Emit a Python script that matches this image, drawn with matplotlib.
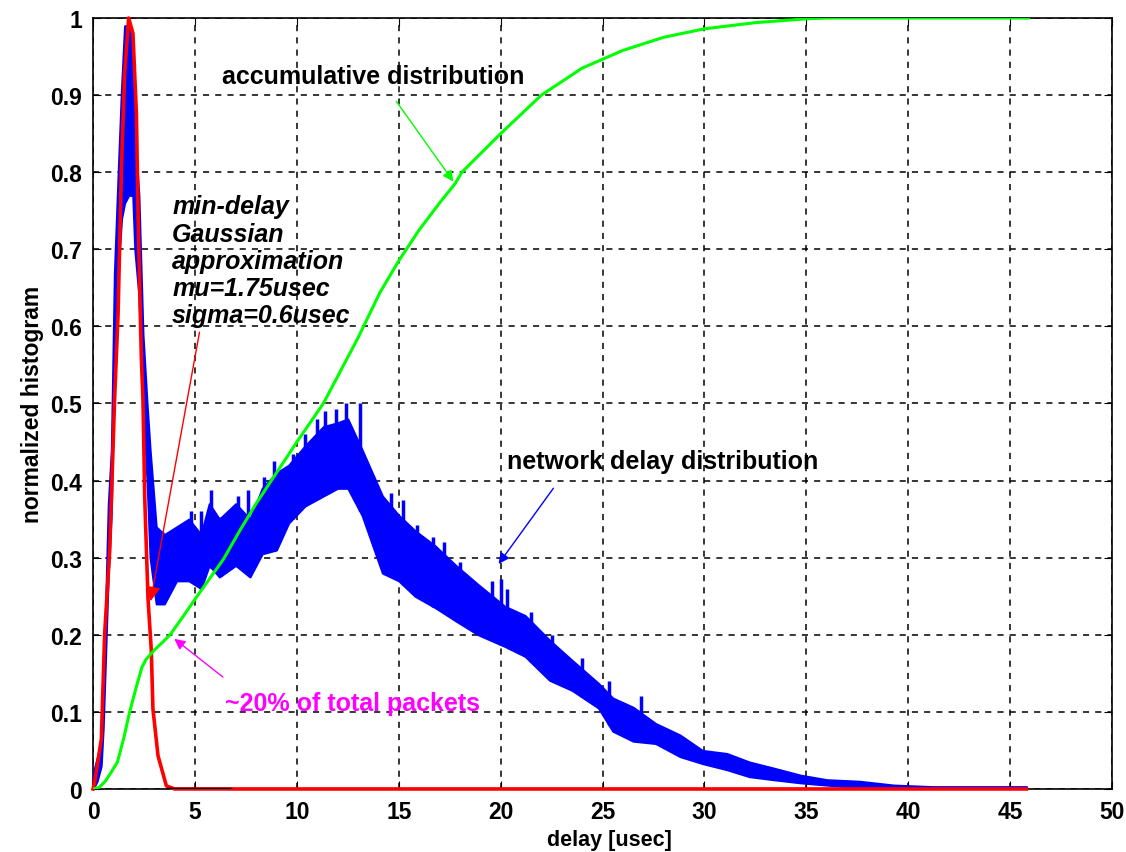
import numpy as np
import matplotlib.pyplot as plt

plt.rcParams['font.family'] = ['Liberation Sans', 'DejaVu Sans']

# network delay histogram: lower and upper edge of the noisy trace
net_x = [0.0, 0.2, 0.4, 0.5, 0.6, 0.75, 0.9, 1.05, 1.25, 1.4, 1.55, 1.75, 1.95, 2.05,
         2.25, 2.45, 2.65, 2.8, 2.95, 3.1, 3.5, 4.1, 4.7, 5.3, 5.7, 6.2, 7.0, 7.7, 8.3,
         9.0, 9.6, 10.4, 11.3, 12.0, 12.5, 13.2, 14.2, 15.0, 15.8, 16.8, 17.8, 18.9,
         20.2, 21.2, 22.4, 23.5, 24.8, 25.5, 26.5, 27.6, 28.8, 29.9, 31.1, 32.2, 33.4,
         34.7, 36.0, 37.6, 39.3, 41.2, 45.8]
net_hi = [0.02, 0.04, 0.06, 0.12, 0.22, 0.37, 0.44, 0.67, 0.81, 0.91, 0.99, 0.99, 0.97, 0.85,
          0.77, 0.59, 0.50, 0.44, 0.39, 0.34, 0.33, 0.34, 0.35, 0.33, 0.37, 0.35, 0.37, 0.35, 0.39,
          0.41, 0.42, 0.445, 0.47, 0.475, 0.48, 0.44, 0.38, 0.355, 0.335, 0.315, 0.29, 0.265,
          0.237, 0.225, 0.193, 0.167, 0.137, 0.118, 0.106, 0.085, 0.07, 0.05, 0.046, 0.035, 0.027,
          0.018, 0.012, 0.010, 0.005, 0.003, 0.003]
net_lo = [0.0, 0.01, 0.03, 0.08, 0.16, 0.28, 0.36, 0.56, 0.68, 0.74, 0.76, 0.77, 0.77, 0.70,
          0.64, 0.50, 0.40, 0.30, 0.27, 0.24, 0.24, 0.27, 0.27, 0.26, 0.29, 0.275, 0.29, 0.275, 0.305,
          0.31, 0.345, 0.367, 0.38, 0.39, 0.39, 0.355, 0.28, 0.27, 0.25, 0.235, 0.218, 0.20,
          0.185, 0.172, 0.141, 0.128, 0.105, 0.075, 0.062, 0.059, 0.042, 0.033, 0.025, 0.016, 0.012,
          0.008, 0.005, 0.002, 0.0, 0.0, 0.0]

# single-bin spikes sticking out above the trace
spike_x = [3.4, 4.3, 4.8, 5.3, 5.8, 6.3, 7.1, 7.6, 8.4, 8.9, 9.8, 10.4, 11.0, 11.4, 11.9,
           12.4, 13.1, 14.6, 15.2, 15.9, 16.7, 17.2, 18.0, 19.6, 20.0, 20.3, 21.5, 22.5,
           24.0, 25.3, 26.9]
spike_top = [0.335, 0.34, 0.36, 0.36, 0.388, 0.353, 0.38, 0.388, 0.405, 0.425, 0.434, 0.46,
             0.48, 0.49, 0.493, 0.5, 0.5, 0.384, 0.375, 0.342, 0.327, 0.32, 0.294, 0.27, 0.272,
             0.26, 0.23, 0.2, 0.17, 0.14, 0.12]

# min-delay gaussian fit
gauss_x = [0.0, 0.08, 0.41, 0.57, 0.82, 1.06, 1.23, 1.39, 1.55, 1.75, 1.96, 2.13, 2.21,
           2.37, 2.45, 2.54, 2.70, 2.86, 2.94, 3.19, 3.6, 4.0, 45.8]
gauss_y = [0.0, 0.009, 0.065, 0.2, 0.31, 0.506, 0.616, 0.80, 0.927, 1.0, 0.98, 0.875, 0.746,
           0.56, 0.506, 0.376, 0.246, 0.18, 0.104, 0.043, 0.004, 0.0, 0.0]

# accumulative distribution
cdf_x = [0.0, 0.3, 0.6, 0.9, 1.2, 1.5, 1.8, 2.1, 2.4, 2.6, 2.8, 3.0, 3.4, 3.78, 4.4, 5.0,
         5.7, 6.4, 7.2, 8.0, 9.0, 10.0, 11.3, 12.0, 13.0, 14.08, 15.0, 16.0, 17.0, 17.76,
         18.1, 20.0, 22.0, 24.0, 26.0, 28.0, 30.0, 32.5, 35.0, 36.0, 45.9]
cdf_y = [0.0, 0.002, 0.01, 0.022, 0.035, 0.065, 0.1, 0.13, 0.158, 0.168, 0.174, 0.18, 0.19,
         0.2, 0.223, 0.246, 0.272, 0.298, 0.335, 0.37, 0.41, 0.45, 0.5, 0.535, 0.585, 0.644,
         0.685, 0.725, 0.76, 0.785, 0.8, 0.85, 0.9, 0.935, 0.958, 0.975, 0.986, 0.994, 0.999,
         1.0, 1.0]

# short dark piece of baseline
base_x = [3.7, 6.7]
base_y = [0.0, 0.0]

fig = plt.figure(figsize=(11.26, 8.53), dpi=100)
ax = fig.add_axes([0.0826, 0.0739, 0.905, 0.9038])

blue = '#0000ff'
ax.fill_between(net_x, net_lo, net_hi, color=blue, lw=1.5, edgecolor=blue, zorder=3)
spike_bot = np.interp(spike_x, net_x, net_lo)
ax.vlines(spike_x, spike_bot, spike_top, color=blue, lw=2.5, zorder=3)
ax.plot(gauss_x, gauss_y, color='#ff0000', lw=2.6, zorder=4, clip_on=False)
ax.plot(base_x, base_y, color='black', lw=2.5, zorder=4)
ax.plot(cdf_x, cdf_y, color='#00ff00', lw=2.2, zorder=4)

ax.set_xlim(0, 50)
ax.set_ylim(0, 1)
ax.set_xticks(np.arange(0, 51, 5))
ax.set_yticks(np.arange(0, 1.01, 0.1))
ax.set_yticklabels(['0', '0.1', '0.2', '0.3', '0.4', '0.5', '0.6', '0.7', '0.8', '0.9', '1'])
ax.grid(True, color='black', linestyle=(0, (4, 4)), lw=1.1)
ax.tick_params(direction='in', top=True, right=True, length=6, labelsize=16.5, pad=8)
for lab in ax.get_xticklabels() + ax.get_yticklabels():
    lab.set_fontweight('bold')
for sp in ax.spines.values():
    sp.set_linewidth(1.2)

ax.set_xlabel('delay [usec]', fontsize=15.5, fontweight='bold', labelpad=2)
ax.xaxis.set_label_coords(0.507, -0.052)
ax.set_ylabel('normalized histogram', fontsize=16.5, fontweight='bold', labelpad=4)

ax.text(3.88, 0.685, 'min-delay\nGaussian\napproximation\nmu=1.75usec\nsigma=0.6usec',
        fontsize=18, fontweight='bold', fontstyle='italic', va='center', ha='left',
        linespacing=1.17, zorder=5)

ax.annotate('', xy=(2.8, 0.24), xytext=(5.25, 0.596),
            arrowprops=dict(arrowstyle='-|>', color='#ff0000', lw=1, mutation_scale=22))
ax.annotate('', xy=(3.88, 0.197), xytext=(6.48, 0.143),
            arrowprops=dict(arrowstyle='-|>', color='#ff00ff', lw=1, mutation_scale=16))
ax.text(6.48, 0.112, '~20% of total packets', color='#ff00ff', fontsize=18,
        fontweight='bold', va='center', ha='left', zorder=5)

ax.annotate('', xy=(17.76, 0.785), xytext=(14.8, 0.895),
            arrowprops=dict(arrowstyle='-|>', color='#00ff00', lw=1, mutation_scale=16))
ax.text(6.33, 0.925, 'accumulative distribution', fontsize=18, fontweight='bold',
        va='center', ha='left', zorder=5)

ax.annotate('', xy=(19.82, 0.289), xytext=(22.67, 0.393),
            arrowprops=dict(arrowstyle='-|>', color=blue, lw=1, mutation_scale=16))
ax.text(20.31, 0.425, 'network delay distribution', fontsize=18, fontweight='bold',
        va='center', ha='left', zorder=5)

fig.savefig('out.png', dpi=100)
